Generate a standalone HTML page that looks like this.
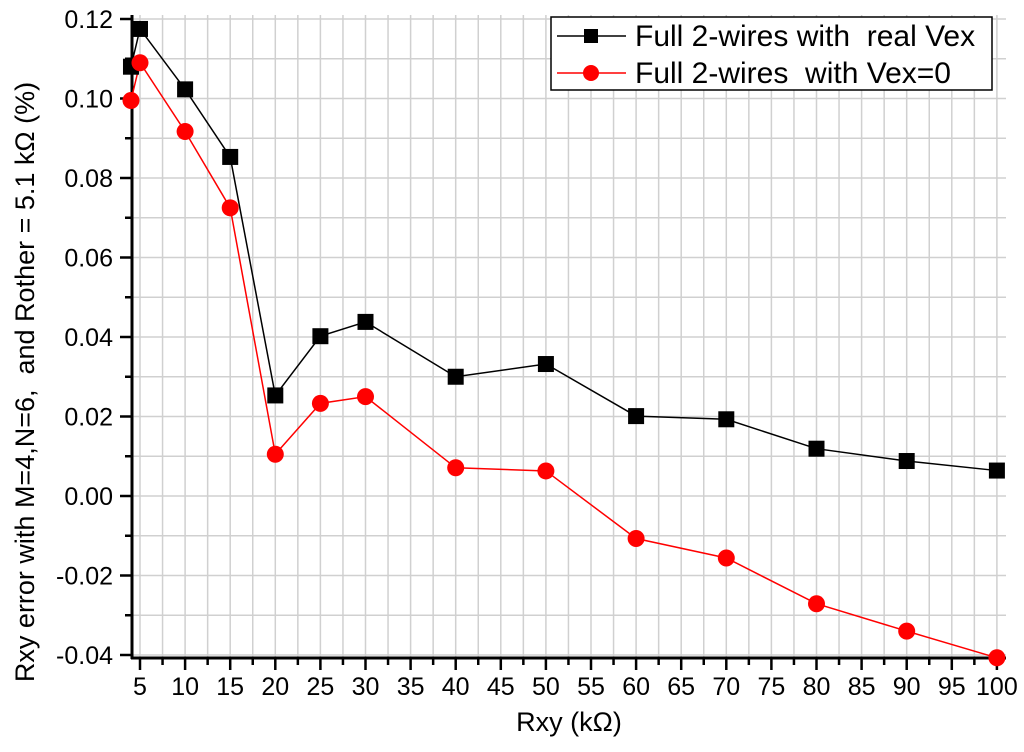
<!DOCTYPE html>
<html><head><meta charset="utf-8"><style>
body{margin:0;background:#fff;}
svg text{font-family:"Liberation Sans",sans-serif;white-space:pre;}
</style></head><body>
<svg id="chart" width="1024" height="747" xmlns="http://www.w3.org/2000/svg">
<g id="grid"></g>
<g id="axes"></g>
<g id="series"></g>
<text x="569" y="731" font-size="27" text-anchor="middle">Rxy (kΩ)</text>
<text transform="translate(34,382) rotate(-90)" font-size="27" text-anchor="middle" xml:space="preserve">Rxy error with M=4,N=6,  and Rother = 5.1 kΩ (%)</text>
<g>
<rect x="551" y="17" width="441" height="73" fill="#fff" stroke="#000" stroke-width="1.5"/>
<line x1="557" y1="36" x2="626" y2="36" stroke="#000" stroke-width="1.5"/>
<rect x="584" y="29" width="14" height="14" fill="#000"/>
<text x="635" y="46" font-size="30" xml:space="preserve">Full 2-wires with  real Vex</text>
<line x1="557" y1="73" x2="626" y2="73" stroke="#f00" stroke-width="1.5"/>
<circle cx="591" cy="73" r="8" fill="#f00"/>
<text x="635" y="83" font-size="30" xml:space="preserve">Full 2-wires  with Vex=0</text>
</g>
</svg>
<script>
const xs=[4,5,10,15,20,25,30,40,50,60,70,80,90,100];
const realVex=[0.108,0.1175,0.1023,0.0853,0.0253,0.0402,0.0438,0.030,0.0332,0.0201,0.0193,0.0119,0.0088,0.0064];
const vexZero=[0.0995,0.109,0.0917,0.0725,0.0105,0.0233,0.0250,0.0071,0.0063,-0.0107,-0.0156,-0.0271,-0.0340,-0.0407];
const xTicks=[5,10,15,20,25,30,35,40,45,50,55,60,65,70,75,80,85,90,95,100];
const yTicks=[-0.04,-0.02,0.00,0.02,0.04,0.06,0.08,0.10,0.12];
const NS="http://www.w3.org/2000/svg";
const X=v=>140+(v-5)*9.02;
const Y=v=>496-v*3975;
const L=132,R=1006,T=15,B=658;
function mk(tag,attrs,parent){const e=document.createElementNS(NS,tag);for(const k in attrs)e.setAttribute(k,attrs[k]);parent.appendChild(e);return e;}
const grid=document.getElementById('grid'),axes=document.getElementById('axes'),ser=document.getElementById('series');
for(let v=5;v<=101;v+=2.5){const g=mk('line',{x1:X(v),x2:X(v),y1:T,y2:B,stroke:'#d0d0d0','stroke-width':1.5},grid);

}
for(let v=-0.04;v<=0.121;v+=0.01){const g=mk('line',{x1:L,x2:R,y1:Y(v),y2:Y(v),stroke:'#d0d0d0','stroke-width':1.5},grid);

}
mk('line',{x1:L,x2:L,y1:T,y2:B+1,stroke:'#000','stroke-width':3},axes);
mk('line',{x1:L-1,x2:R,y1:B,y2:B,stroke:'#000','stroke-width':3},axes);
for(let v=7.5;v<=101;v+=5){mk('line',{x1:X(v),x2:X(v),y1:B,y2:B+7,stroke:'#000','stroke-width':2.5},axes);}
xTicks.forEach(v=>{mk('line',{x1:X(v),x2:X(v),y1:B,y2:B+12,stroke:'#000','stroke-width':2.5},axes);
const t=mk('text',{x:X(v),y:B+37,'font-size':25,'text-anchor':'middle'},axes);t.textContent=v;

});
for(let v=-0.03;v<0.12;v+=0.02){mk('line',{x1:L-7,x2:L,y1:Y(v),y2:Y(v),stroke:'#000','stroke-width':2.5},axes);}
yTicks.forEach(v=>{mk('line',{x1:L-12,x2:L,y1:Y(v),y2:Y(v),stroke:'#000','stroke-width':2.5},axes);
const t=mk('text',{x:L-19,y:Y(v)+9,'font-size':25,'text-anchor':'end'},axes);t.textContent=v.toFixed(2);

});
function line(vals,color,name){const p=mk('polyline',{points:xs.map((x,i)=>X(x)+','+Y(vals[i])).join(' '),fill:'none',stroke:color,'stroke-width':1.5},ser);

}
line(realVex,'#000','real-vex');
line(vexZero,'#f00','vex-zero');
xs.forEach((x,i)=>{const r=mk('rect',{x:X(x)-8,y:Y(realVex[i])-8,width:16,height:16,fill:'#000'},ser);

});
xs.forEach((x,i)=>{const c=mk('circle',{cx:X(x),cy:Y(vexZero[i]),r:8.5,fill:'#f00'},ser);

});
</script>
</body></html>
